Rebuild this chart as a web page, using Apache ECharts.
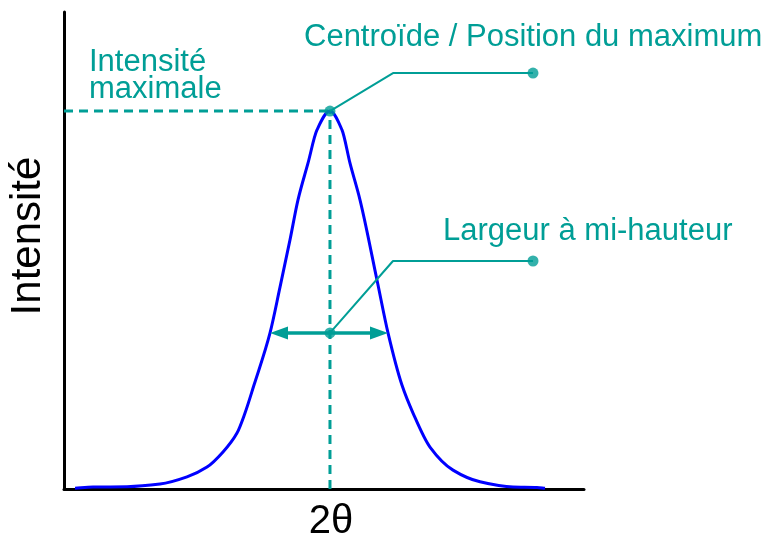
<!DOCTYPE html>
<html>
<head>
<meta charset="utf-8">
<script src="https://cdn.jsdelivr.net/npm/echarts@6/dist/echarts.min.js"></script>
<style>
  html, body { margin: 0; padding: 0; background: #fff; }
  #chart { width: 763px; height: 543px; }
</style>
</head>
<body>
<div id="chart"></div>
<script>
// Diffraction peak profile (2θ in arbitrary units, intensity in % of maximum)
const profileX = [2.12, 5.58, 12.12, 18.46, 23.65, 27.50, 30.58, 33.27, 34.81, 36.54, 39.62, 41.54, 43.46, 45.00, 46.92, 48.65, 51.15,
                  53.46, 55.00, 56.92, 60.19, 62.31, 64.99, 67.12, 70.38, 74.81, 80.00, 86.35, 90.96, 92.50];
const profileY = [0.2, 0.5, 0.6, 1.3, 3.2, 5.8, 9.8, 14.8, 20.1, 27.5, 41.3, 53.4, 65.9, 76.5, 86.2, 95.0, 100,
                  95.0, 86.2, 76.5, 55.3, 41.3, 27.5, 20.1, 11.1, 5.0, 1.9, 0.5, 0.4, 0.2];

// Level at which the width arrow is drawn
const widthLevel = [41.3];

// Callout elbows and end points for the centroid and the width labels
const calloutElbowX = [63.27, 63.27];
const calloutElbowY = [110.05, 60.32];
const calloutEndX = [90.19, 90.19];

// Axis ranges
const xRange = [0, 100];
const yRange = [0, 126.2];

const labels = {
  centroid: 'Centroïde / Position du maximum',
  width: 'Largeur à mi-hauteur',
  maxLine1: 'Intensité',
  maxLine2: 'maximale',
  xName: '2θ',
  yName: 'Intensité'
};

const TEAL = '#009E96';
const FONT = '"Liberation Sans", Arial, sans-serif';

// Peak position from the profile
let iPeak = 0;
profileY.forEach((v, i) => { if (v > profileY[iPeak]) iPeak = i; });
const peakX = profileX[iPeak];
const peakY = profileY[iPeak];

// Where the profile crosses the width level, on each side of the peak
function crossing(level, from, to, step) {
  for (let i = from; i !== to; i += step) {
    const a = profileY[i], b = profileY[i + step];
    if ((a - level) * (b - level) <= 0) {
      const t = (level - a) / (b - a || 1);
      return profileX[i] + t * (profileX[i + step] - profileX[i]);
    }
  }
  return profileX[from];
}
const lvl = widthLevel[0];
const leftX = crossing(lvl, iPeak, 0, -1);
const rightX = crossing(lvl, iPeak, profileX.length - 1, 1);

// Monotone cubic (Fritsch–Butland) path through pixel points
function monotonePath(pts) {
  const n = pts.length;
  const h = [], d = [];
  for (let i = 0; i < n - 1; i++) {
    h.push(pts[i + 1][0] - pts[i][0]);
    d.push((pts[i + 1][1] - pts[i][1]) / h[i]);
  }
  const m = new Array(n);
  m[0] = d[0];
  m[n - 1] = d[n - 2];
  for (let i = 1; i < n - 1; i++) {
    if (d[i - 1] * d[i] <= 0) { m[i] = 0; continue; }
    const h0 = h[i - 1], h1 = h[i];
    m[i] = 3 * (h0 + h1) / ((2 * h1 + h0) / d[i - 1] + (h1 + 2 * h0) / d[i]);
  }
  let s = 'M' + pts[0][0] + ' ' + pts[0][1];
  for (let i = 0; i < n - 1; i++) {
    const t = h[i] / 3;
    s += ' C' + (pts[i][0] + t) + ' ' + (pts[i][1] + m[i] * t) + ' ' +
         (pts[i + 1][0] - t) + ' ' + (pts[i + 1][1] - m[i + 1] * t) + ' ' +
         pts[i + 1][0] + ' ' + pts[i + 1][1];
  }
  return s;
}

const chart = echarts.init(document.getElementById('chart'), null, { renderer: 'canvas' });

const dashStyle = { color: TEAL, width: 3, type: [9, 6] };

chart.setOption({
  animation: false,
  backgroundColor: '#ffffff',
  grid: { left: 64, right: 179, top: 12, bottom: 54 },
  xAxis: {
    type: 'value', min: xRange[0], max: xRange[1],
    axisLine: { show: true, lineStyle: { color: '#000', width: 3 } },
    axisTick: { show: false }, axisLabel: { show: false }, splitLine: { show: false }
  },
  yAxis: {
    type: 'value', min: yRange[0], max: yRange[1],
    axisLine: { show: true, lineStyle: { color: '#000', width: 3 } },
    axisTick: { show: false }, axisLabel: { show: false }, splitLine: { show: false }
  },
  series: [
    {
      name: 'maxLevel', type: 'line', silent: true, showSymbol: false,
      data: [[xRange[0], peakY], [peakX, peakY]],
      lineStyle: dashStyle, z: 2
    },
    {
      name: 'centroidLine', type: 'line', silent: true, showSymbol: false,
      data: [[peakX, 0], [peakX, peakY]],
      lineStyle: dashStyle, z: 2
    },
    {
      name: 'profile', type: 'custom', silent: true, z: 3,
      data: profileX.map((x, i) => [x, profileY[i]]),
      encode: { x: 0, y: 1 },
      renderItem: function (params, api) {
        if (params.dataIndex !== 0) return null;
        const pts = profileX.map((x, i) => api.coord([x, profileY[i]]));
        return {
          type: 'path',
          shape: { pathData: monotonePath(pts) },
          style: { fill: null, stroke: '#0000FF', lineWidth: 3, lineJoin: 'round' }
        };
      }
    },
    {
      name: 'widthArrow', type: 'custom', silent: true, z: 4,
      data: [[leftX, lvl, rightX]],
      encode: { x: [0, 2], y: 1 },
      renderItem: function (params, api) {
        const a = api.coord([api.value(0), api.value(1)]);
        const b = api.coord([api.value(2), api.value(1)]);
        const len = 18, half = 6.5, y = a[1];
        return {
          type: 'group',
          children: [
            { type: 'line', shape: { x1: a[0] + len - 2, y1: y, x2: b[0] - len + 2, y2: y },
              style: { stroke: TEAL, lineWidth: 3.5 } },
            { type: 'polygon', shape: { points: [[a[0], y], [a[0] + len, y - half], [a[0] + len, y + half]] },
              style: { fill: TEAL } },
            { type: 'polygon', shape: { points: [[b[0], y], [b[0] - len, y - half], [b[0] - len, y + half]] },
              style: { fill: TEAL } }
          ]
        };
      }
    },
    {
      name: 'centroidCallout', type: 'line', silent: true, showSymbol: false,
      data: [[peakX, peakY], [calloutElbowX[0], calloutElbowY[0]], [calloutEndX[0], calloutElbowY[0]]],
      lineStyle: { color: TEAL, width: 2 }, z: 5
    },
    {
      name: 'widthCallout', type: 'line', silent: true, showSymbol: false,
      data: [[peakX, lvl], [calloutElbowX[1], calloutElbowY[1]], [calloutEndX[1], calloutElbowY[1]]],
      lineStyle: { color: TEAL, width: 2 }, z: 5
    },
    {
      name: 'dots', type: 'scatter', silent: true, symbolSize: 11,
      itemStyle: { color: TEAL },
      data: [[peakX, peakY], [calloutEndX[0], calloutElbowY[0]], [peakX, lvl], [calloutEndX[1], calloutElbowY[1]]],
      z: 6
    }
  ],
  graphic: [
    { type: 'text', left: 304, top: 22, style: { text: labels.centroid, font: '31px ' + FONT, fill: TEAL } },
    { type: 'text', left: 443, top: 216, style: { text: labels.width, font: '31px ' + FONT, fill: TEAL } },
    { type: 'text', left: 89, top: 47, style: { text: labels.maxLine1, font: '31px ' + FONT, fill: TEAL } },
    { type: 'text', left: 89, top: 74, style: { text: labels.maxLine2, font: '31px ' + FONT, fill: TEAL } },
    {
      type: 'text', x: 331, y: 522,
      style: { text: labels.xName, font: '40px ' + FONT, fill: '#000', align: 'center', verticalAlign: 'middle' }
    },
    {
      type: 'text', x: 28, y: 236, rotation: Math.PI / 2,
      style: { text: labels.yName, font: '42px ' + FONT, fill: '#000', align: 'center', verticalAlign: 'middle' }
    }
  ]
});
</script>
</body>
</html>
